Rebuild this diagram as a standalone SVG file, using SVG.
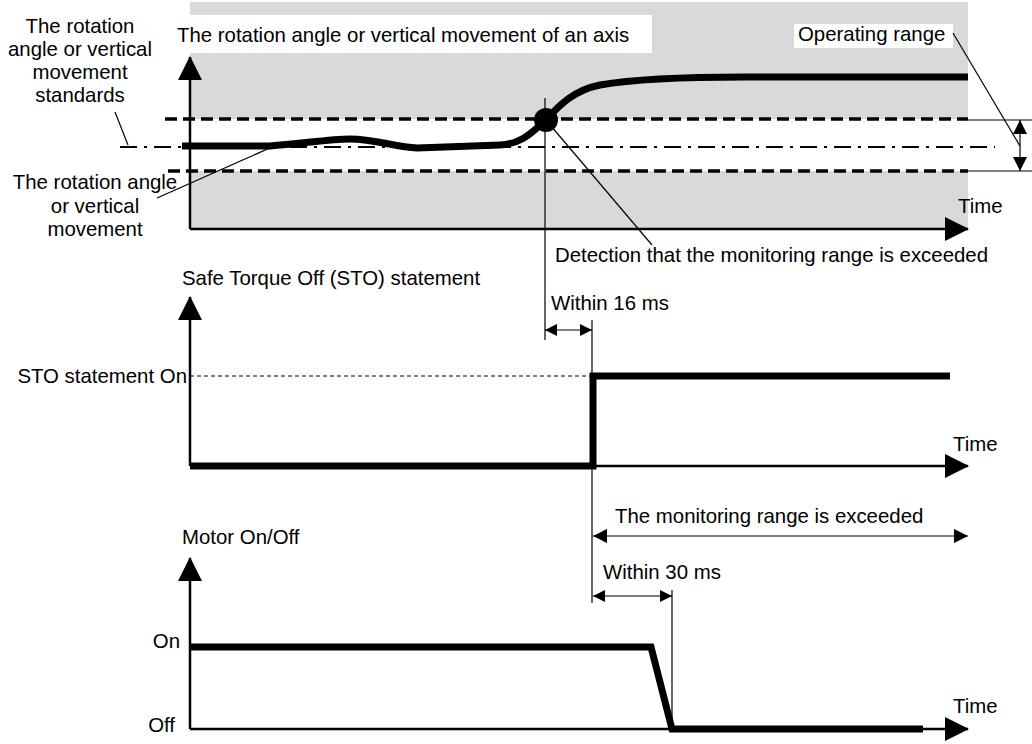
<svg xmlns="http://www.w3.org/2000/svg" width="1032" height="744" viewBox="0 0 1032 744">
<style>
text{font-family:"Liberation Sans",Arial,sans-serif;font-size:20.4px;fill:#000}
.thin{stroke:#000;stroke-width:1.2;fill:none}
.axis{stroke:#000;stroke-width:2.5;fill:none}
.thick{stroke:#000;stroke-width:7;fill:none;stroke-linejoin:miter}
.dash{stroke:#000;stroke-width:3.5;stroke-dasharray:12 6;fill:none}
.dashdot{stroke:#000;stroke-width:2;stroke-dasharray:17 7 3 7;fill:none}
</style>
<defs>
<marker id="big" markerUnits="userSpaceOnUse" viewBox="0 0 24 24" markerWidth="24" markerHeight="24" refX="23" refY="12" orient="auto"><path d="M0,0L24,12L0,24z" fill="#000"/></marker>
<marker id="sm" markerUnits="userSpaceOnUse" viewBox="0 0 12 12" markerWidth="12" markerHeight="12" refX="12" refY="6" orient="auto-start-reverse"><path d="M0,0L12,6L0,12z" fill="#000"/></marker>
<marker id="md" markerUnits="userSpaceOnUse" viewBox="0 0 14 14" markerWidth="14" markerHeight="14" refX="14" refY="7" orient="auto-start-reverse"><path d="M0,0L14,7L0,14z" fill="#000"/></marker>
</defs>

<g id="panel-top">
<rect x="190" y="2" width="778" height="227" fill="#d9d9d9"/>
<rect x="190" y="119" width="778" height="52" fill="#fff"/>
<rect x="170" y="15" width="482" height="38" fill="#fff"/>
<rect x="794" y="24" width="159" height="24" fill="#fff"/>
<line class="dash" x1="165" y1="119" x2="968" y2="119"/>
<line class="dash" x1="168" y1="171" x2="968" y2="171"/>
<line class="dashdot" x1="120" y1="147" x2="995" y2="147"/>
<line class="axis" x1="190" y1="229" x2="190" y2="57" marker-end="url(#big)"/>
<line class="axis" x1="190" y1="229" x2="968" y2="229" marker-end="url(#big)"/>
<path class="thick" d="M182,146 L270,146 C300,144 330,139 350,139 C375,139 395,147 417,148 L500,145 C522,144 532,132 546,120 C560,104 575,90 600,85 C640,78 700,77 745,77 L968,77"/>
<circle cx="546" cy="120" r="12" fill="#000"/>
<text x="177" y="42">The rotation angle or vertical movement of an axis</text>
<text x="798" y="41">Operating range</text>
<text x="958" y="213">Time</text>
</g>

<g id="label-standards">
<text x="80" y="33" text-anchor="middle">The rotation</text>
<text x="80" y="56" text-anchor="middle">angle or vertical</text>
<text x="80" y="79" text-anchor="middle">movement</text>
<text x="80" y="102" text-anchor="middle">standards</text>
</g>

<g id="label-movement">
<text x="95" y="189" text-anchor="middle">The rotation angle</text>
<text x="95" y="213" text-anchor="middle">or vertical</text>
<text x="95" y="236" text-anchor="middle">movement</text>
</g>

<g id="operating-range">
<line class="thin" x1="968" y1="120" x2="1032" y2="120"/>
<line class="thin" x1="968" y1="171" x2="1032" y2="171"/>
<line class="thin" x1="1020" y1="120" x2="1020" y2="171" marker-start="url(#md)" marker-end="url(#md)"/>
</g>

<g id="detection">
<text x="555" y="262">Detection that the monitoring range is exceeded</text>
</g>

<g id="panel-sto">
<line class="axis" x1="190" y1="466" x2="190" y2="297" marker-end="url(#big)"/>
<line class="axis" x1="190" y1="466" x2="968" y2="466" marker-end="url(#big)"/>
<line stroke="#000" stroke-width="1" stroke-dasharray="4 3" x1="190" y1="376" x2="592" y2="376"/>
<path class="thick" d="M190,466 L593,466 L593,376 L950,376"/>
<text x="182" y="285">Safe Torque Off (STO) statement</text>
<text x="187" y="383" text-anchor="end">STO statement On</text>
<text x="953" y="451">Time</text>
<text x="551" y="310">Within 16 ms</text>
</g>

<g id="panel-motor">
<line class="axis" x1="190" y1="729" x2="190" y2="558" marker-end="url(#big)"/>
<line class="axis" x1="190" y1="729" x2="968" y2="729" marker-end="url(#big)"/>
<path class="thick" d="M190,647 L651,647 L672,729 L923,729"/>
<text x="182" y="544">Motor On/Off</text>
<text x="180" y="648" text-anchor="end">On</text>
<text x="175" y="732" text-anchor="end">Off</text>
<text x="953" y="713">Time</text>
<text x="615" y="523">The monitoring range is exceeded</text>
<text x="603" y="579">Within 30 ms</text>
</g>

<g id="connectors">
<line class="thin" x1="115" y1="112" x2="128" y2="145"/>
<line class="thin" x1="157" y1="198" x2="272" y2="147"/>
<line class="thin" x1="953" y1="33" x2="1020" y2="146"/>
<line class="thin" x1="551" y1="126" x2="652" y2="245"/>
<line class="thin" x1="545" y1="98" x2="545" y2="340"/>
<line class="thin" x1="592" y1="320" x2="592" y2="603"/>
<line class="thin" x1="672" y1="590" x2="672" y2="729"/>
<line class="thin" x1="545" y1="330" x2="592" y2="330" marker-start="url(#sm)" marker-end="url(#sm)"/>
<line class="thin" x1="593" y1="536" x2="968" y2="536" marker-start="url(#md)" marker-end="url(#md)"/>
<line class="thin" x1="593" y1="596" x2="672" y2="596" marker-start="url(#sm)" marker-end="url(#sm)"/>
</g>
</svg>
